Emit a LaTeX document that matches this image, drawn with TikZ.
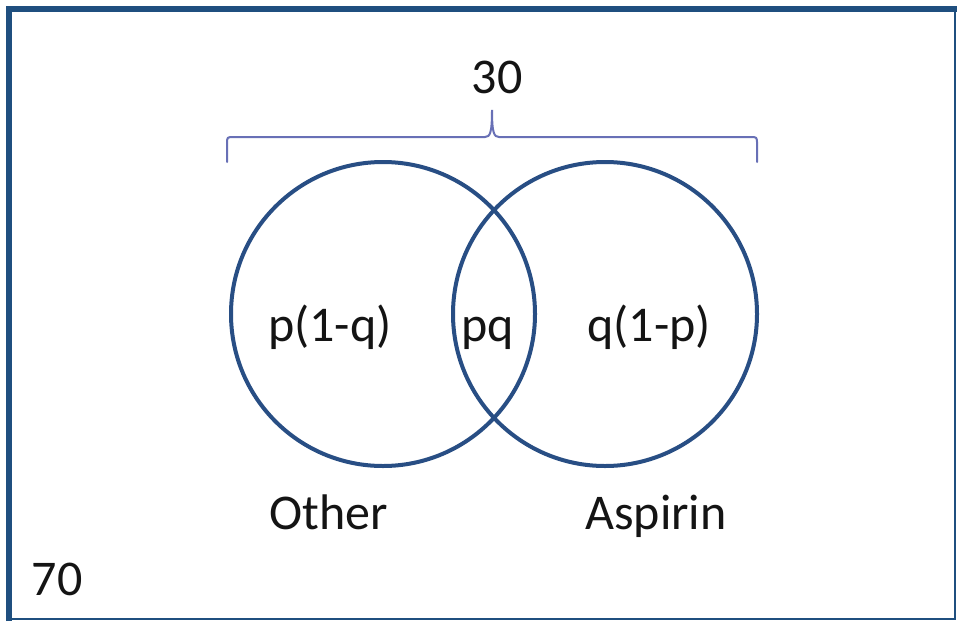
\documentclass[tikz,border=0pt]{standalone}
\usepackage{fontspec}
\setmainfont{Carlito}
\definecolor{framecol}{RGB}{31,79,127}
\definecolor{ringcol}{RGB}{40,78,132}
\definecolor{bracecol}{RGB}{104,112,182}
\begin{document}
\begin{tikzpicture}[x=1pt,y=-1pt,
  ring/.style={circle,draw=ringcol,line width=4pt,minimum size=304pt,inner sep=0pt},
  lbl/.style={anchor=base,inner sep=0pt,font=\fontsize{50}{60}\selectfont,text=black!92}]
  \useasboundingbox (0,0) rectangle (957,621);
  \fill[white] (0,0) rectangle (957,621);
  % outer frame
  \draw[framecol,line width=2pt] (9,9) -- (955,9) -- (955,619) -- (9,619);
  \draw[framecol,line width=5.5pt] (9,621) -- (9,9) -- (957,9);
  % the two sets
  \node[ring] (other) at (383,314) {};
  \node[ring] (aspirin) at (605,314) {};
  % brace over both sets
  \coordinate (bl) at (227,162);
  \coordinate (br) at (757,162);
  \coordinate (tip) at (492,110);
  \draw[bracecol,line width=2pt,line cap=round]
    (bl) -- (227,144) .. controls (227,137) .. (234,137)
    -- (485,137) .. controls (490,137) and (492,133) .. (tip)
    .. controls (492,133) and (494,137) .. (499,137)
    -- (750,137) .. controls (757,137) .. (757,144) -- (br);
  % labels
  \node[lbl] (total) at (497,93) {30};
  \node[lbl] (rest) at (57,595) {70};
  \node[lbl] (onlyother) at (330,341) {p(1-q)};
  \node[lbl] (both) at (488,341) {pq};
  \node[lbl] (onlyaspirin) at (649,341) {q(1-p)};
  \node[lbl] (otherlbl) at (329,529) {Other};
  \node[lbl] (aspirinlbl) at (656,529) {Aspirin};
\end{tikzpicture}
\end{document}
